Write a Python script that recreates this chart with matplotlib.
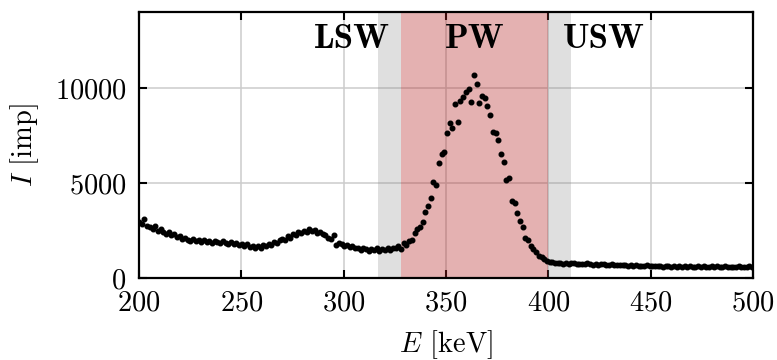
import numpy as np
import matplotlib
matplotlib.use('Agg')
import matplotlib.pyplot as plt

""" spettro in energia con le finestre LSW, PW e USW """

plt.rcParams['font.family'] = 'cmr10'
plt.rcParams['mathtext.fontset'] = 'cm'
plt.rcParams['axes.formatter.use_mathtext'] = True

# conteggi per canale (canali da 1.32 keV a partire da 200 keV)
conteggi = [2950, 2820, 3090, 2750, 2680, 2600, 2720, 2480, 2550, 2400,
            2330, 2420, 2250, 2300, 2150, 2200, 2050, 2120, 2000, 1950,
            2050, 1930, 1980, 1900, 2000, 1880, 1950, 1850, 1960, 1880,
            1820, 1930, 1850, 1780, 1870, 1790, 1850, 1720, 1800, 1700,
            1760, 1620, 1700, 1580, 1680, 1600, 1720, 1680, 1780, 1750,
            1880, 1820, 1980, 2050, 2000, 2180, 2120, 2300, 2250, 2400,
            2350, 2480, 2420, 2550, 2450, 2500, 2380, 2420, 2300, 2250,
            2120, 2050, 2250, 1750, 1820, 1780, 1700, 1720, 1620, 1680,
            1560, 1600, 1480, 1560, 1500, 1430, 1530, 1460, 1550, 1400,
            1500, 1450, 1560, 1480, 1600, 1550, 1700, 1510,
            1826, 1737, 1947, 1984, 2384, 2563, 2700, 2947, 3489, 3805,
            4210, 5052, 4910, 6037, 6510, 6616, 7616, 8174, 7879, 9158,
            8226, 9316, 9542, 9774, 9947, 9279, 10668, 10210, 9226, 9579,
            9489, 9068, 8579, 7668, 7647, 7263, 6542, 6089, 5158, 5279,
            4068, 3963, 3421, 3016, 2668, 2121, 1984, 1700, 1510, 1384,
            1174, 1121, 1000, 895, 842, 842, 789,
            760, 800, 740, 780, 720, 760, 790, 730, 750, 710,
            740, 770, 720, 700, 740, 690, 720, 750, 700, 680,
            720, 690, 660, 700, 670, 690, 650, 680, 640, 660,
            630, 650, 620, 660, 640, 610, 640, 620, 650, 600,
            630, 610, 590, 620, 600, 640, 590, 610, 580, 620,
            600, 570, 610, 590, 620, 580, 600, 640, 590, 610,
            570, 600, 620, 580, 600, 560, 590, 610, 570, 600,
            580, 610, 570]
E_inizio = 200
passo = 1.32
energia = E_inizio + passo * np.arange(len(conteggi))

# finestre (keV)
lsw = [317, 328]
pw = [328, 400]
usw = [400, 411]
etichette = ['LSW', 'PW', 'USW']
pos_etichette = [304, 364, 427]

fig, ax = plt.subplots(figsize=[7.77, 3.6], dpi=100)
fig.subplots_adjust(left=0.179, right=0.969, bottom=0.228, top=0.967)

ax.set_axisbelow(True)
ax.grid(True, color='#cccccc', lw=1.1)
ax.axvspan(lsw[0], lsw[1], color='grey', alpha=0.25, lw=0, zorder=1)
ax.axvspan(pw[0], pw[1], color='#b22222', alpha=0.35, lw=0, zorder=1)
ax.axvspan(usw[0], usw[1], color='grey', alpha=0.25, lw=0, zorder=1)

ax.plot(energia, conteggi, 'o', c='black', ms=3.3, zorder=3)

for t, x in zip(etichette, pos_etichette):
    ax.text(x, 12550, t, fontfamily='cmb10', fontsize=25, ha='center', va='center', zorder=4)

ax.set_xlim(200, 500)
ax.set_ylim(0, 14000)
ax.set_xticks([200, 250, 300, 350, 400, 450, 500])
ax.set_yticks([0, 5000, 10000])
ax.tick_params(direction='in', top=True, right=True, length=6, width=1.5, labelsize=20.5)
ax.tick_params(axis='x', pad=9)
ax.tick_params(axis='y', pad=9)
for s in ax.spines.values():
    s.set_linewidth(1.6)
ax.set_xlabel(r'$E$ [keV]', fontsize=20.5, labelpad=8)
ax.set_ylabel(r'$I$ [imp]', fontsize=20.5, labelpad=10)

plt.savefig('out.png', dpi=100)
